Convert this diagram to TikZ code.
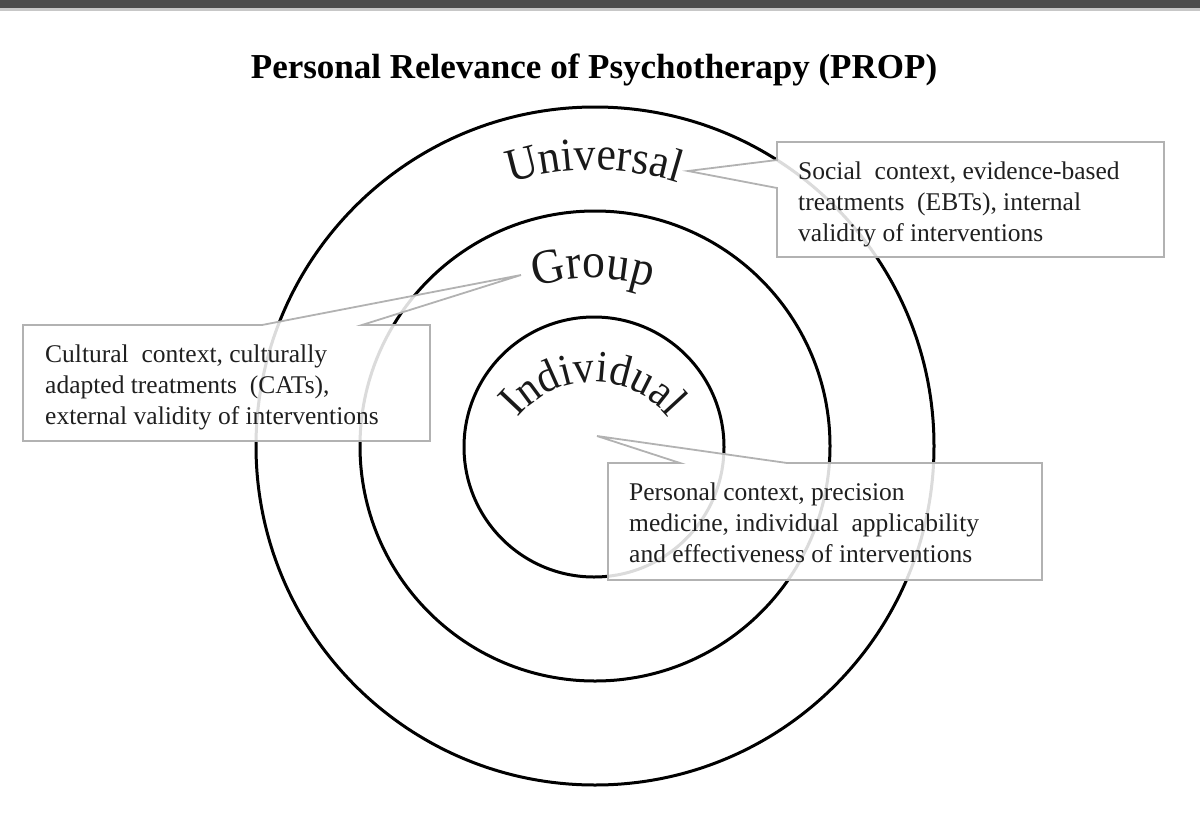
\documentclass[tikz,border=0pt]{standalone}
\usepackage{fontspec}
\setmainfont{Liberation Serif}
\newfontfamily\arcserif[FakeStretch=0.93]{Liberation Serif}
\usetikzlibrary{decorations.text}
\begin{document}
\begin{tikzpicture}[x=1pt,y=1pt,
  ring/.style={draw=black,line width=3pt},
  callout/.style={draw=black!30,line width=1.8pt,fill=white,fill opacity=0.86,line join=miter},
  boxtext/.style={anchor=north west,inner sep=0pt,align=left,text=black!88,font=\fontsize{25.5}{31}\selectfont},
  arclabel/.style={decorate,decoration={text along path,text align=center,text color=black!90}},
  ]
\useasboundingbox (0,0) rectangle (1200,-822);
\fill[black!70] (0,0) rectangle (1200,-8);
\fill[black!22] (0,-8) rectangle (1200,-11);

\node[anchor=base,inner sep=0pt,font=\bfseries\fontsize{35}{40}\selectfont] (title) at (594,-78) {Personal Relevance of Psychotherapy (PROP)};

\coordinate (c) at (595,-446);
\draw[ring] (c) circle[radius=339];
\draw[ring] (c) circle[radius=235];
\draw[ring] (594,-447) circle[radius=130];

% curved labels
\coordinate (uc) at (594,-446);
\coordinate (gc) at (593,-460);
\coordinate (ic) at (593,-479);
{\arcserif\fontsize{47}{50}\selectfont
\path[arclabel,decoration={text={Universal}}] ([shift={(128:276)}]uc) arc[start angle=128,end angle=52,radius=276];}
{\arcserif\fontsize{49}{50}\selectfont
\path[arclabel,decoration={text={Group}}] ([shift={(150:182)}]gc) arc[start angle=150,end angle=30,radius=182];}
{\arcserif\fontsize{45}{50}\selectfont
\path[arclabel,decoration={text={Individual}}] ([shift={(175:97)}]ic) arc[start angle=175,end angle=5,radius=97];}

% callouts
\coordinate (utip) at (688,-171);
\coordinate (gtip) at (521,-275);
\coordinate (itip) at (597,-436);

\draw[callout] (777,-142) -- (1164,-142) -- (1164,-257) -- (777,-257) -- (777,-188) -- (utip) -- (777,-160) -- cycle;
\draw[callout] (23,-325) -- (262,-325) -- (gtip) -- (362,-325) -- (430,-325) -- (430,-441) -- (23,-441) -- cycle;
\draw[callout] (608,-463) -- (680,-463) -- (itip) -- (787,-463) -- (1042,-463) -- (1042,-580) -- (608,-580) -- cycle;

\node[boxtext] (utext) at (798,-161.5) {Social\ \ context, evidence-based\\treatments\ \ (EBTs), internal\\validity of interventions};
\node[boxtext] (gtext) at (45,-344.5) {Cultural\ \ context, culturally\\adapted treatments\ \ (CATs),\\external validity of interventions};
\node[boxtext] (itext) at (629,-482.5) {Personal context, precision\\medicine, individual\ \ applicability\\and effectiveness of interventions};
\end{tikzpicture}
\end{document}
